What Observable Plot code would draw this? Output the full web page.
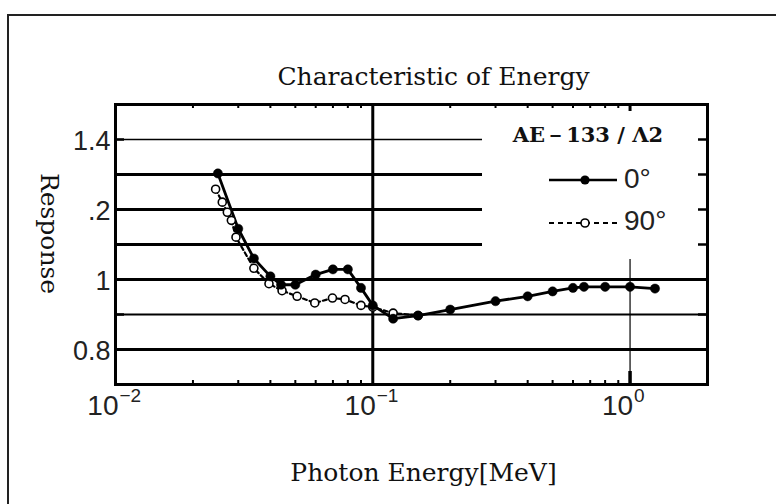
<!DOCTYPE html>
<html><head><meta charset="utf-8">
<script src="https://cdn.jsdelivr.net/npm/d3@7"></script>
<script src="https://cdn.jsdelivr.net/npm/@observablehq/plot@0.6"></script>
<style>
html,body{margin:0;padding:0;background:#fff;overflow:hidden;}
#wrap{position:relative;width:776px;height:504px;}
#border{position:absolute;left:7px;top:14px;width:800px;height:600px;border-top:2px solid #222;border-left:2px solid #222;}
#wrap svg{position:absolute;left:0;top:0;}
</style></head><body><div id="wrap"><div id="border"></div></div>
<script>
// ---- data ----
const energy0 = [0.025, 0.03, 0.0345, 0.04, 0.044, 0.05, 0.06, 0.07, 0.08, 0.09, 0.1, 0.12, 0.15, 0.2, 0.3, 0.4, 0.5, 0.6, 0.662, 0.8, 1.0, 1.25];
const response0 = [1.303, 1.145, 1.06, 1.009, 0.985, 0.985, 1.014, 1.029, 1.029, 0.976, 0.926, 0.888, 0.897, 0.914, 0.938, 0.952, 0.966, 0.976, 0.979, 0.979, 0.979, 0.974];
const energy90 = [0.0245, 0.026, 0.0272, 0.0282, 0.0294, 0.0345, 0.0395, 0.0444, 0.0508, 0.0595, 0.0697, 0.078, 0.09, 0.1, 0.12, 0.15];
const response90 = [1.258, 1.221, 1.192, 1.169, 1.121, 1.032, 0.988, 0.968, 0.952, 0.933, 0.947, 0.943, 0.926, 0.921, 0.904, 0.897];
const seriesNames = ["0°", "90°"];
const legendTitle = "AE－133 / Λ2";

const xTickValues = [0.01, 0.1, 1];
const xTickExponents = ["−2", "−1", "0"];
const yTickValues = [1.4, 1.2, 1.0, 0.8];
const yTickLabels = ["1.4", ".2", "1", "0.8"];
const yMinorTicks = [0.8, 0.9, 1.0, 1.1, 1.2, 1.3, 1.4];
const xMinorTicks = [0.02, 0.03, 0.04, 0.05, 0.06, 0.07, 0.08, 0.09, 0.2, 0.3, 0.4, 0.5, 0.6, 0.7, 0.8, 0.9];

const shortThickGrid = [1.3, 1.2, 1.1];
const shortThinGrid = [1.4];
const fullThickGrid = [1.0, 0.8];
const fullThinGrid = [0.9];
const shortGridEnd = 0.267;   // MeV where the upper grid lines stop
const decadeLines = [0.1];
const unitLine = [1.0];
const unitLineTop = 1.057;

const titleText = "Characteristic of Energy";
const xTitle = "Photon Energy[MeV]";
const yTitle = "Response";

const data0 = energy0.map((e, i) => ({e, r: response0[i]}));
const data90 = energy90.map((e, i) => ({e, r: response90[i]}));

const serif = "DejaVu Serif";
const sans = "Liberation Sans, Arial, sans-serif";

const chart = Plot.plot({
  width: 776,
  height: 504,
  marginLeft: 115,
  marginRight: 69,
  marginTop: 104,
  marginBottom: 120,
  style: {background: "transparent", overflow: "visible"},
  x: {type: "log", domain: [0.01, 2], axis: null},
  y: {domain: [0.7, 1.5], axis: null},
  marks: [
    Plot.ruleY(shortThinGrid, {y: d => d, x1: 0.01, x2: shortGridEnd, stroke: "black", strokeWidth: 1.3}),
    Plot.ruleY(shortThickGrid, {y: d => d, x1: 0.01, x2: shortGridEnd, stroke: "black", strokeWidth: 3}),
    Plot.ruleY(fullThickGrid, {y: d => d, stroke: "black", strokeWidth: 3}),
    Plot.ruleY(fullThinGrid, {y: d => d, stroke: "black", strokeWidth: 1.8}),
    Plot.ruleX(decadeLines, {x: d => d, stroke: "black", strokeWidth: 3}),
    Plot.ruleX(unitLine, {x: d => d, y1: 0.7, y2: unitLineTop, stroke: "black", strokeWidth: 1.2}),
    Plot.tickX(unitLine, {x: d => d, insetTop: 267, stroke: "black", strokeWidth: 3.5}),
    Plot.tickX(unitLine, {x: d => d, insetBottom: 273, stroke: "black", strokeWidth: 3}),
    Plot.tickX(xMinorTicks, {x: d => d, insetTop: 276, stroke: "black", strokeWidth: 2}),
    Plot.tickX(xMinorTicks, {x: d => d, insetBottom: 276, stroke: "black", strokeWidth: 2}),
    Plot.tickY(yMinorTicks, {y: d => d, insetRight: 583, stroke: "black", strokeWidth: 2.5}),
    Plot.tickY(yMinorTicks, {y: d => d, insetLeft: 583, stroke: "black", strokeWidth: 2.5}),
    Plot.frame({stroke: "black", strokeWidth: 3}),
    Plot.line(data90, {x: "e", y: "r", stroke: "black", strokeWidth: 2.2, strokeDasharray: "4,3"}),
    Plot.line(data0, {x: "e", y: "r", stroke: "black", strokeWidth: 2.8}),
    Plot.dot(data90, {x: "e", y: "r", r: 4, fill: "white", stroke: "black", strokeWidth: 1.6}),
    Plot.dot(data0, {x: "e", y: "r", r: 4.6, fill: "black", stroke: "black", strokeWidth: 0.5}),
    // tick labels
    Plot.text(yTickValues, {y: d => d, text: (d, i) => yTickLabels[i], frameAnchor: "left", textAnchor: "end", dx: -5, dy: 2, fontSize: 27, fontFamily: sans, fill: "#222"}),
    Plot.text(xTickValues, {x: d => d, text: () => "10", frameAnchor: "bottom", textAnchor: "end", dx: 3, dy: 30, fontSize: 28, fontFamily: sans, fill: "#222"}),
    Plot.text(xTickValues, {x: d => d, text: (d, i) => xTickExponents[i], frameAnchor: "bottom", textAnchor: "start", dx: 4, dy: 17, fontSize: 19, fontFamily: sans, fill: "#222"}),
    // titles
    Plot.text([titleText], {text: d => d, frameAnchor: "top", dx: 22, dy: -37, fontSize: 25, fontFamily: serif, fill: "#111"}),
    Plot.text([xTitle], {text: d => d, frameAnchor: "bottom", dx: 12, dy: 96, fontSize: 25, fontFamily: serif, fill: "#111"}),
    Plot.text([yTitle], {text: d => d, frameAnchor: "left", textAnchor: "middle", rotate: 90, dx: -67, dy: -11, fontSize: 25, fontFamily: serif, fill: "#111"})
  ]
});
document.getElementById("wrap").appendChild(chart);

// legend inside the plot area
const svg = d3.select(chart);
const lg = svg.append("g");
lg.append("text").attr("x", 588).attr("y", 141.5).attr("text-anchor", "middle")
  .attr("font-family", serif).attr("font-weight", "bold").attr("font-size", 21).attr("fill", "#111").text(legendTitle);
lg.append("line").attr("x1", 549).attr("x2", 617).attr("y1", 180).attr("y2", 180)
  .attr("stroke", "black").attr("stroke-width", 2.6);
lg.append("circle").attr("cx", 585).attr("cy", 180).attr("r", 4.6).attr("fill", "black");
lg.append("text").attr("x", 624).attr("y", 188).attr("text-anchor", "start").attr("font-family", sans).attr("font-size", 28).attr("fill", "#222").text(seriesNames[0]);
lg.append("line").attr("x1", 549).attr("x2", 617).attr("y1", 223).attr("y2", 223)
  .attr("stroke", "black").attr("stroke-width", 2.2).attr("stroke-dasharray", "5,4");
lg.append("circle").attr("cx", 585).attr("cy", 223).attr("r", 4).attr("fill", "white").attr("stroke", "black").attr("stroke-width", 1.6);
lg.append("text").attr("x", 624).attr("y", 230).attr("text-anchor", "start").attr("font-family", sans).attr("font-size", 28).attr("fill", "#222").text(seriesNames[1]);
</script>
</body></html>
